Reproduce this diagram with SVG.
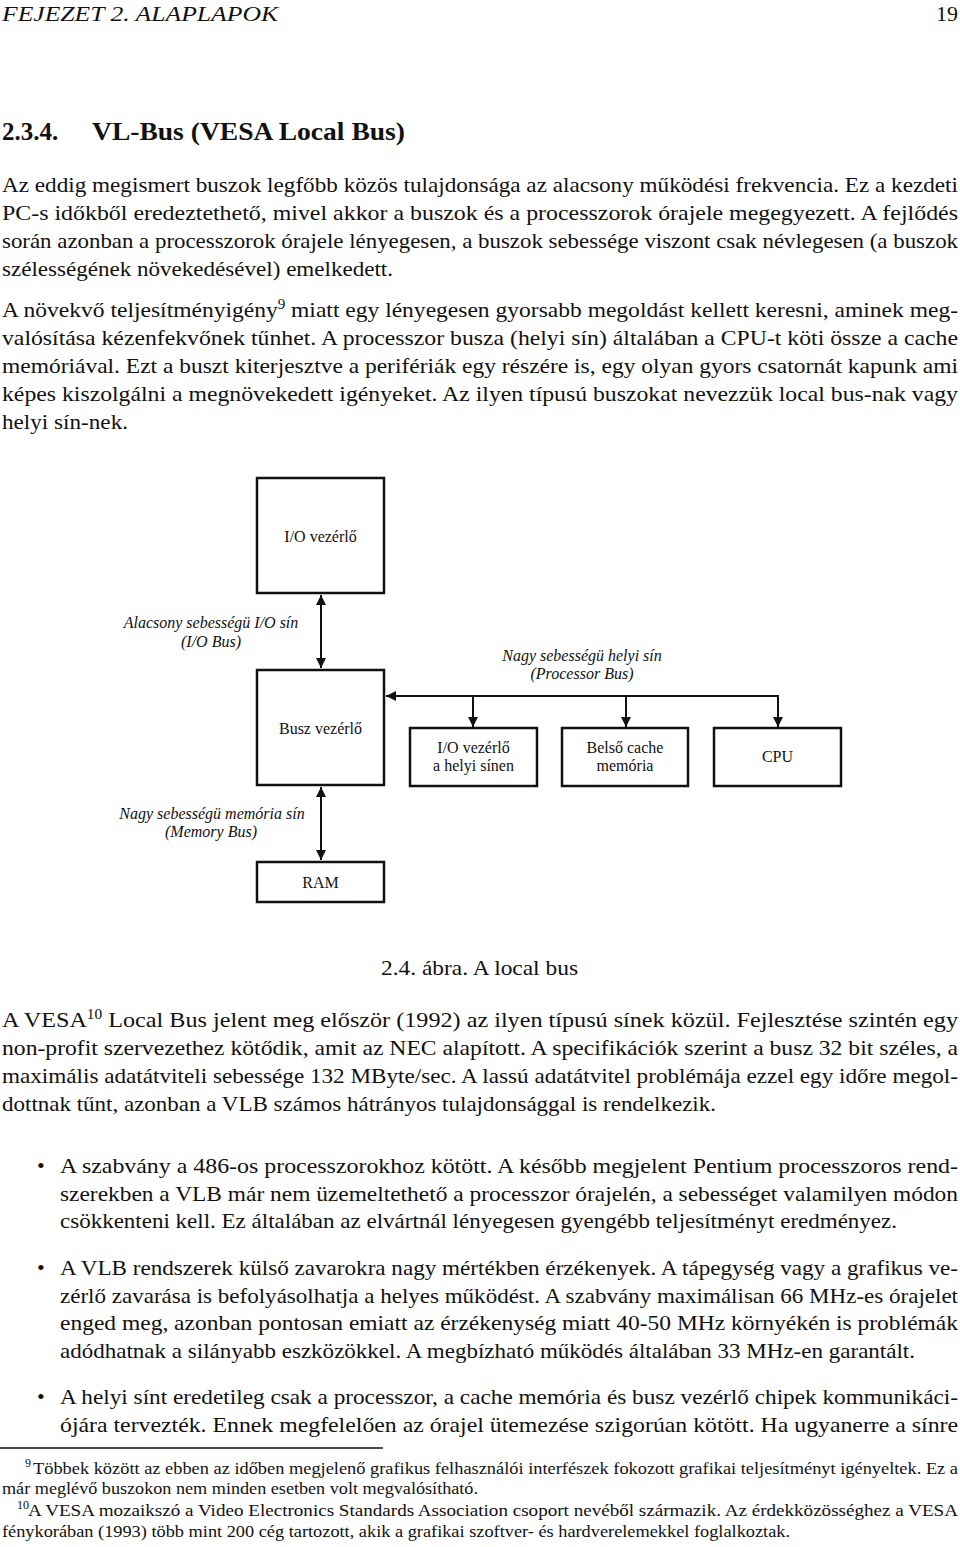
<svg xmlns="http://www.w3.org/2000/svg" width="960" height="1547" viewBox="0 0 960 1547">
<style>
text{font-family:"Liberation Serif","Times New Roman",serif;fill:#111;}
.hdr{font-size:20px;font-style:italic;}
.h2{font-size:25px;font-weight:bold;}
.b{font-size:22px;}
.fn{font-size:17px;}
.sup{font-size:14px;}
.fsup{font-size:12px;}
.d{font-size:16px;}
.di{font-size:16px;font-style:italic;}
.box{fill:#fff;stroke:#111;stroke-width:2.5;}
.con{stroke:#111;stroke-width:2;fill:none;}
</style>
<defs>
<marker id="ah" markerUnits="userSpaceOnUse" markerWidth="10" markerHeight="10" refX="10" refY="5" orient="auto-start-reverse">
<path d="M0,0 L10,5 L0,10 z" fill="#111"/>
</marker>
</defs>
<rect width="960" height="1547" fill="#fff"/>

<g id="page-text">
<text class="hdr" x="2" y="21" textLength="276" lengthAdjust="spacingAndGlyphs">FEJEZET 2. ALAPLAPOK</text>
<text class="b" x="958" y="21" text-anchor="end">19</text>
<text class="h2" x="2" y="140">2.3.4.</text>
<text class="h2" x="92" y="140" textLength="313" lengthAdjust="spacingAndGlyphs">VL-Bus (VESA Local Bus)</text>

<text class="b" x="2" y="192" textLength="956" lengthAdjust="spacingAndGlyphs">Az eddig megismert buszok legfőbb közös tulajdonsága az alacsony működési frekvencia. Ez a kezdeti</text>
<text class="b" x="2" y="220" textLength="956" lengthAdjust="spacingAndGlyphs">PC-s időkből eredeztethető, mivel akkor a buszok és a processzorok órajele megegyezett. A fejlődés</text>
<text class="b" x="2" y="248" textLength="956" lengthAdjust="spacingAndGlyphs">során azonban a processzorok órajele lényegesen, a buszok sebessége viszont csak névlegesen (a buszok</text>
<text class="b" x="2" y="276" textLength="391" lengthAdjust="spacingAndGlyphs">szélességének növekedésével) emelkedett.</text>

<text class="b" x="2" y="317" textLength="956" lengthAdjust="spacingAndGlyphs">A növekvő teljesítményigény<tspan class="sup" dy="-8">9</tspan><tspan dy="8"> miatt egy lényegesen gyorsabb megoldást kellett keresni, aminek meg-</tspan></text>
<text class="b" x="2" y="345" textLength="956" lengthAdjust="spacingAndGlyphs">valósítása kézenfekvőnek tűnhet. A processzor busza (helyi sín) általában a CPU-t köti össze a cache</text>
<text class="b" x="2" y="373" textLength="956" lengthAdjust="spacingAndGlyphs">memóriával. Ezt a buszt kiterjesztve a perifériák egy részére is, egy olyan gyors csatornát kapunk ami</text>
<text class="b" x="2" y="401" textLength="956" lengthAdjust="spacingAndGlyphs">képes kiszolgálni a megnövekedett igényeket. Az ilyen típusú buszokat nevezzük local bus-nak vagy</text>
<text class="b" x="2" y="429" textLength="126" lengthAdjust="spacingAndGlyphs">helyi sín-nek.</text>

<text class="b" x="381" y="975" textLength="197" lengthAdjust="spacingAndGlyphs">2.4. ábra. A local bus</text>

<text class="b" x="2" y="1027" textLength="956" lengthAdjust="spacingAndGlyphs">A VESA<tspan class="sup" dy="-8">10</tspan><tspan dy="8"> Local Bus jelent meg először (1992) az ilyen típusú sínek közül. Fejlesztése szintén egy</tspan></text>
<text class="b" x="2" y="1055" textLength="956" lengthAdjust="spacingAndGlyphs">non-profit szervezethez kötődik, amit az NEC alapított. A specifikációk szerint a busz 32 bit széles, a</text>
<text class="b" x="2" y="1083" textLength="956" lengthAdjust="spacingAndGlyphs">maximális adatátviteli sebessége 132 MByte/sec. A lassú adatátvitel problémája ezzel egy időre megol-</text>
<text class="b" x="2" y="1111" textLength="714" lengthAdjust="spacingAndGlyphs">dottnak tűnt, azonban a VLB számos hátrányos tulajdonsággal is rendelkezik.</text>

<text class="b" x="37" y="1173">•</text>
<text class="b" x="60" y="1173" textLength="898" lengthAdjust="spacingAndGlyphs">A szabvány a 486-os processzorokhoz kötött. A később megjelent Pentium processzoros rend-</text>
<text class="b" x="60" y="1201" textLength="898" lengthAdjust="spacingAndGlyphs">szerekben a VLB már nem üzemeltethető a processzor órajelén, a sebességet valamilyen módon</text>
<text class="b" x="60" y="1228" textLength="837" lengthAdjust="spacingAndGlyphs">csökkenteni kell. Ez általában az elvártnál lényegesen gyengébb teljesítményt eredményez.</text>

<text class="b" x="37" y="1275">•</text>
<text class="b" x="60" y="1275" textLength="898" lengthAdjust="spacingAndGlyphs">A VLB rendszerek külső zavarokra nagy mértékben érzékenyek. A tápegység vagy a grafikus ve-</text>
<text class="b" x="60" y="1303" textLength="898" lengthAdjust="spacingAndGlyphs">zérlő zavarása is befolyásolhatja a helyes működést. A szabvány maximálisan 66 MHz-es órajelet</text>
<text class="b" x="60" y="1330" textLength="898" lengthAdjust="spacingAndGlyphs">enged meg, azonban pontosan emiatt az érzékenység miatt 40-50 MHz környékén is problémák</text>
<text class="b" x="60" y="1358" textLength="855" lengthAdjust="spacingAndGlyphs">adódhatnak a silányabb eszközökkel. A megbízható működés általában 33 MHz-en garantált.</text>

<text class="b" x="37" y="1404">•</text>
<text class="b" x="60" y="1404" textLength="898" lengthAdjust="spacingAndGlyphs">A helyi sínt eredetileg csak a processzor, a cache memória és busz vezérlő chipek kommunikáci-</text>
<text class="b" x="60" y="1432" textLength="898" lengthAdjust="spacingAndGlyphs">ójára tervezték. Ennek megfelelően az órajel ütemezése szigorúan kötött. Ha ugyanerre a sínre</text>

<line x1="0" y1="1448" x2="383" y2="1448" stroke="#111" stroke-width="1.3"/>

<text class="fsup" x="25" y="1467">9</text>
<text class="fn" x="33" y="1474" textLength="925" lengthAdjust="spacingAndGlyphs">Többek között az ebben az időben megjelenő grafikus felhasználói interfészek fokozott grafikai teljesítményt igényeltek. Ez a</text>
<text class="fn" x="2" y="1494" textLength="476" lengthAdjust="spacingAndGlyphs">már meglévő buszokon nem minden esetben volt megvalósítható.</text>
<text class="fsup" x="17" y="1509">10</text>
<text class="fn" x="28" y="1516" textLength="930" lengthAdjust="spacingAndGlyphs">A VESA mozaikszó a Video Electronics Standards Association csoport nevéből származik. Az érdekközösséghez a VESA</text>
<text class="fn" x="2" y="1537" textLength="788" lengthAdjust="spacingAndGlyphs">fénykorában (1993) több mint 200 cég tartozott, akik a grafikai szoftver- és hardverelemekkel foglalkoztak.</text>
</g>

<g id="connectors">
<line class="con" x1="321" y1="595" x2="321" y2="668" marker-start="url(#ah)" marker-end="url(#ah)"/>
<line class="con" x1="321" y1="787" x2="321" y2="860" marker-start="url(#ah)" marker-end="url(#ah)"/>
<path class="con" d="M778,696 H386" marker-end="url(#ah)"/>
<path class="con" d="M473,696 V727" marker-end="url(#ah)"/>
<path class="con" d="M626,696 V727" marker-end="url(#ah)"/>
<path class="con" d="M778,695 V727" marker-end="url(#ah)"/>
</g>

<g id="bus-labels">
<text class="di" x="211" y="628" text-anchor="middle">Alacsony sebességü I/O sín</text>
<text class="di" x="211" y="647" text-anchor="middle">(I/O Bus)</text>
<text class="di" x="582" y="661" text-anchor="middle">Nagy sebességü helyi sín</text>
<text class="di" x="582" y="679" text-anchor="middle">(Processor Bus)</text>
<text class="di" x="212" y="819" text-anchor="middle">Nagy sebességü memória sín</text>
<text class="di" x="211" y="837" text-anchor="middle">(Memory Bus)</text>
</g>

<g id="io-controller">
<rect class="box" x="257" y="478" width="127" height="115"/>
<text class="d" x="320.5" y="542" text-anchor="middle">I/O vezérlő</text>
</g>
<g id="bus-controller">
<rect class="box" x="257" y="670" width="127" height="115"/>
<text class="d" x="320.5" y="734" text-anchor="middle">Busz vezérlő</text>
</g>
<g id="ram">
<rect class="box" x="257" y="862" width="127" height="40"/>
<text class="d" x="320.5" y="888" text-anchor="middle">RAM</text>
</g>
<g id="local-io">
<rect class="box" x="410" y="728" width="127" height="58"/>
<text class="d" x="473.5" y="753" text-anchor="middle">I/O vezérlő</text>
<text class="d" x="473.5" y="771" text-anchor="middle">a helyi sínen</text>
</g>
<g id="cache">
<rect class="box" x="562" y="728" width="126" height="58"/>
<text class="d" x="625" y="753" text-anchor="middle">Belső cache</text>
<text class="d" x="625" y="771" text-anchor="middle">memória</text>
</g>
<g id="cpu">
<rect class="box" x="714" y="728" width="127" height="58"/>
<text class="d" x="777.5" y="762" text-anchor="middle">CPU</text>
</g>
</svg>
